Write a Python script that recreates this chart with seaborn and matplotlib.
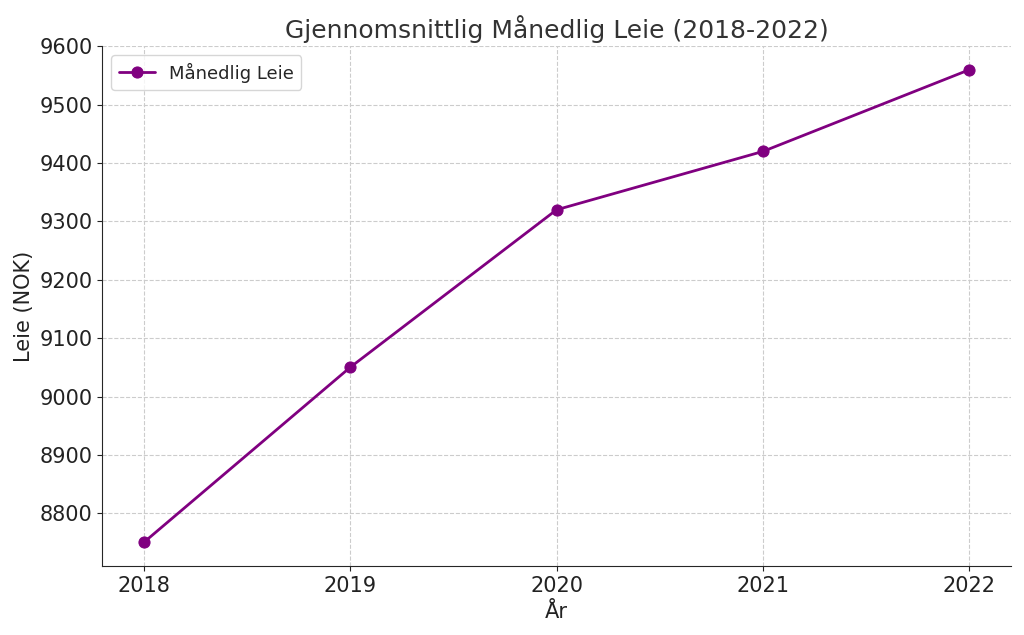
import matplotlib
matplotlib.use("Agg")
import matplotlib.pyplot as plt
import seaborn as sns
import pandas as pd

years = [2018, 2019, 2020, 2021, 2022]
rent = [8750, 9050, 9320, 9420, 9560]
yticks = [8800, 8900, 9000, 9100, 9200, 9300, 9400, 9500, 9600]

df = pd.DataFrame({"År": years, "Leie": rent})

sns.set_style("ticks")
plt.rcParams['font.family'] = ['DejaVu Sans']

fig, ax = plt.subplots(figsize=(10.24, 6.35), dpi=100)
sns.lineplot(data=df, x="År", y="Leie", marker="o", markersize=8,
             markeredgecolor="purple", color="purple", linewidth=2,
             label="Månedlig Leie", ax=ax)

ax.set_xticks(years)
ax.set_yticks(yticks)
ax.set_ylim(8709, 9600)
ax.set_xlim(2017.8, 2022.2)
ax.grid(True, linestyle="--", color="#cccccc", linewidth=0.8)
ax.tick_params(labelsize=15, colors="#222222")
ax.set_title("Gjennomsnittlig Månedlig Leie (2018-2022)", fontsize=18, color="#333333")
ax.set_xlabel("År", fontsize=15, color="#222222")
ax.set_ylabel("Leie (NOK)", fontsize=15, color="#222222")
sns.despine(ax=ax)
ax.legend(loc="upper left", fontsize=13)

plt.subplots_adjust(left=0.1, right=0.987, top=0.927, bottom=0.108)
plt.savefig("out.png", dpi=100)
